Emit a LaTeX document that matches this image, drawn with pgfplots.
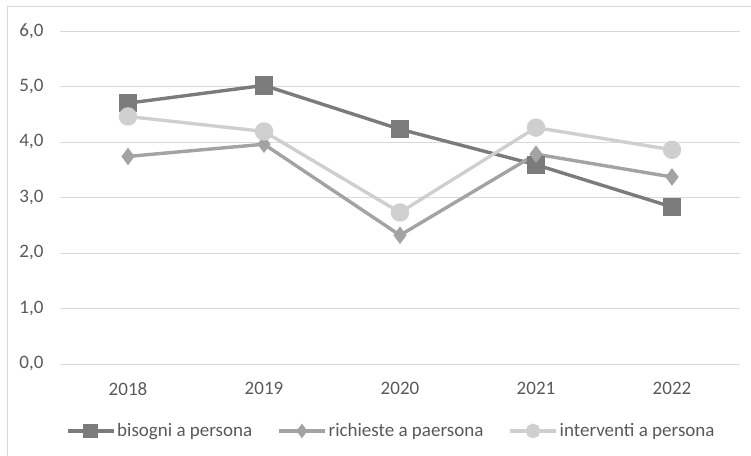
\documentclass[border=0pt]{standalone}
\usepackage{fontspec}
\setmainfont{Carlito}
\usepackage{pgfplots}
\pgfplotsset{compat=1.18}

\definecolor{serA}{HTML}{7B7B7B}
\definecolor{serB}{HTML}{A3A3A3}
\definecolor{serC}{HTML}{CFCFCF}
\definecolor{gridc}{HTML}{D9D9D9}
\definecolor{txt}{HTML}{595959}

\begin{document}
\fontsize{19bp}{23bp}\selectfont
\begin{tikzpicture}
\useasboundingbox (0bp,0bp) rectangle (751bp,456bp);
% chart frame
\draw[gridc, line width=1bp] (7bp,-10bp) -- (7bp,449bp) -- (770bp,449bp);
\begin{axis}[
  at={(60bp,92bp)}, anchor=south west,
  scale only axis, width=680bp, height=333bp,
  xmin=-0.5, xmax=4.5, ymin=0, ymax=6,
  xtick={0,1,2,3,4},
  xticklabels={2018,2019,2020,2021,2022},
  ytick={0,1,2,3,4,5,6},
  ymajorgrids, grid style={gridc, line width=0.9bp},
  axis line style={draw=none},
  major tick length=0pt,
  tick label style={font=\fontsize{19bp}{23bp}\selectfont, text=txt},
  xticklabel style={yshift=-12bp},
  yticklabel style={xshift=-10bp},
  /pgf/number format/.cd, use comma, fixed, fixed zerofill, precision=1, assume math mode=true,
  /pgfplots/.cd,
  clip=false,
  legend columns=3,
  legend style={at={(0.487,-0.201)}, anchor=center, draw=none, fill=none,
    font=\fontsize{19bp}{23bp}\selectfont, text=txt,
    /tikz/every even column/.append style={column sep=23bp},
    inner sep=0pt},
  legend cell align=left,
  legend image code/.code={\draw[mark repeat=2, mark phase=2, mark options={solid, scale=0.75}]
    plot coordinates {(0bp,0bp) (23bp,0bp) (46bp,0bp)};},
]
\addplot[serA, line width=3.4bp, mark=square*, mark size=7.5bp, mark options={solid}]
  coordinates {(0,4.70) (1,5.02) (2,4.23) (3,3.59) (4,2.83)};
\addlegendentry{bisogni a persona}
\addplot[serB, line width=3.4bp, mark=diamond*, mark size=6bp, mark options={solid}]
  coordinates {(0,3.74) (1,3.96) (2,2.32) (3,3.78) (4,3.37)};
\addlegendentry{richieste a paersona}
\addplot[serC, line width=3.4bp, mark=*, mark size=7.5bp, mark options={solid}]
  coordinates {(0,4.46) (1,4.19) (2,2.73) (3,4.26) (4,3.86)};
\addlegendentry{interventi a persona}
\end{axis}
\end{tikzpicture}
\end{document}
